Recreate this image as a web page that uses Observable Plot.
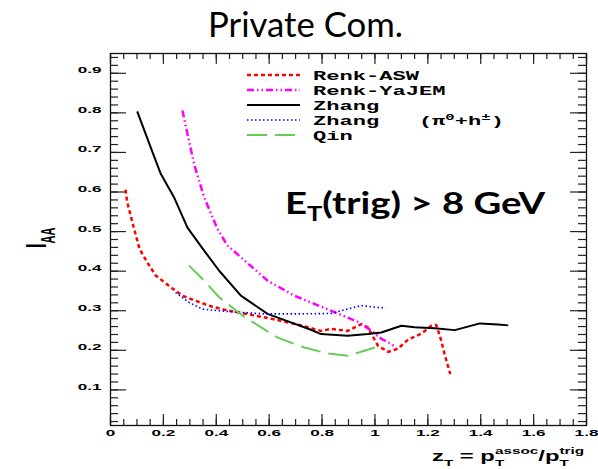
<!DOCTYPE html>
<html><head><meta charset="utf-8">
<script src="https://cdn.jsdelivr.net/npm/d3@7"></script>
<script src="https://cdn.jsdelivr.net/npm/@observablehq/plot@0.6"></script>
<style>body{margin:0;background:#fff}</style>
</head><body><div id="chart"></div>
<script>
// ---- data ----
const renkAswZ = [0.057, 0.063, 0.088, 0.110, 0.139, 0.171, 0.221, 0.272, 0.322, 0.385, 0.448, 0.505, 0.607, 0.708, 0.796, 0.834, 0.897, 0.948, 0.973, 1.011, 1.050, 1.087, 1.125, 1.175, 1.213, 1.232, 1.251, 1.263, 1.285];
const renkAswY = [0.606, 0.575, 0.510, 0.456, 0.422, 0.389, 0.363, 0.338, 0.325, 0.310, 0.300, 0.293, 0.280, 0.265, 0.249, 0.254, 0.249, 0.266, 0.258, 0.212, 0.196, 0.204, 0.227, 0.242, 0.262, 0.264, 0.224, 0.191, 0.140];
const renkYajemZ = [0.272, 0.291, 0.316, 0.354, 0.404, 0.442, 0.493, 0.594, 0.695, 0.758, 0.834, 0.935, 0.986, 1.024, 1.062, 1.080];
const renkYajemY = [0.806, 0.747, 0.671, 0.587, 0.507, 0.465, 0.435, 0.376, 0.338, 0.321, 0.300, 0.272, 0.250, 0.229, 0.216, 0.206];
const zhangZ = [0.101, 0.152, 0.190, 0.240, 0.291, 0.354, 0.411, 0.493, 0.594, 0.758, 0.796, 0.897, 0.973, 1.024, 1.100, 1.150, 1.226, 1.302, 1.397, 1.466, 1.504];
const zhangY = [0.804, 0.713, 0.646, 0.587, 0.510, 0.452, 0.401, 0.338, 0.292, 0.252, 0.241, 0.237, 0.241, 0.245, 0.262, 0.258, 0.256, 0.251, 0.268, 0.265, 0.263];
const zhangPiZ = [0.246, 0.297, 0.348, 0.411, 0.486, 0.581, 0.708, 0.834, 0.872, 0.948, 1.011, 1.040];
const zhangPiY = [0.346, 0.321, 0.304, 0.300, 0.296, 0.292, 0.292, 0.293, 0.300, 0.313, 0.308, 0.307];
const qinZ = [0.297, 0.348, 0.411, 0.505, 0.632, 0.733, 0.822, 0.897, 0.960, 1.000];
const qinY = [0.414, 0.380, 0.334, 0.285, 0.232, 0.207, 0.192, 0.186, 0.199, 0.207];

const seriesNames = ["Renk-ASW", "Renk-YaJEM", "Zhang", "Zhang   (π⁰+h±)", "Qin"];
const xTicks = [0, 0.2, 0.4, 0.6, 0.8, 1, 1.2, 1.4, 1.6, 1.8];
const xMinorTicks = d3.range(0, 1.8001, 0.05);
const yTicks = [0.1, 0.2, 0.3, 0.4, 0.5, 0.6, 0.7, 0.8, 0.9];
const yMinorTicks = d3.range(0.02, 0.9501, 0.02);

// ---- layout ----
const W = 598, H = 469, mT = 53, mB = 44, mL = 110, mR = 12;
const innerW = W - mL - mR, innerH = H - mT - mB;
const rows = (zs, ys) => zs.map((z, i) => ({z, y: ys[i]}));

const series = [
  {rows: rows(renkAswZ, renkAswY), stroke: "#ff0000", width: 2.5, dash: "4,3"},
  {rows: rows(renkYajemZ, renkYajemY), stroke: "#ff00ff", width: 2.5, dash: "7,3,1.5,3,1.5,3"},
  {rows: rows(zhangZ, zhangY), stroke: "#000000", width: 2, dash: null},
  {rows: rows(zhangPiZ, zhangPiY), stroke: "#0000ff", width: 1.6, dash: "1.5,2.5"},
  {rows: rows(qinZ, qinY), stroke: "#66cc55", width: 2, dash: "20,8"}
];

const tickStyle = {stroke: "#222", strokeWidth: 1.2};
const labelFont = {fontSize: 9.5, fontWeight: "bold", fontFamily: "Liberation Sans, Arial, sans-serif", fill: "black"};

const svg = Plot.plot({
  width: W, height: H,
  marginTop: mT, marginBottom: mB, marginLeft: mL, marginRight: mR,
  style: {background: "white", overflow: "visible"},
  x: {domain: [0, 1.8]},
  y: {domain: [0.01, 0.95]},
  marks: [
    Plot.tickX(xMinorTicks, {x: d => d, insetTop: innerH - 6, ...tickStyle}),
    Plot.tickX(xTicks, {x: d => d, insetTop: innerH - 11, ...tickStyle}),
    Plot.tickX(xMinorTicks, {x: d => d, insetBottom: innerH - 6, ...tickStyle}),
    Plot.tickX(xTicks, {x: d => d, insetBottom: innerH - 11, ...tickStyle}),
    Plot.tickY(yMinorTicks, {y: d => d, insetRight: innerW - 8, ...tickStyle}),
    Plot.tickY(yTicks, {y: d => d, insetRight: innerW - 16, ...tickStyle}),
    Plot.tickY(yMinorTicks, {y: d => d, insetLeft: innerW - 8, ...tickStyle}),
    Plot.tickY(yTicks, {y: d => d, insetLeft: innerW - 16, ...tickStyle}),
    Plot.frame({stroke: "#111", strokeWidth: 1.3}),
    ...series.map(s => Plot.line(s.rows, {x: "z", y: "y", stroke: s.stroke, strokeWidth: s.width, strokeDasharray: s.dash, strokeLinecap: "butt"})),
    Plot.axisX({ticks: xTicks, tickSize: 0, tickPadding: 10, tickFormat: d => String(d), label: null, ...labelFont}),
    Plot.axisY({ticks: yTicks, tickSize: 0, tickPadding: 9, tickFormat: d => String(d), label: null, ...labelFont})
  ]
});
document.getElementById("chart").append(svg);

const root = d3.select(svg);
function stretch(sel, sx) {
  sel.each(function () {
    let tr = this.getAttribute("transform") || "";
    const x = this.getAttribute("x"), y = this.getAttribute("y");
    if (x != null || y != null) {
      tr += ` translate(${+x || 0},${+y || 0})`;
      this.removeAttribute("x"); this.removeAttribute("y");
    }
    this.setAttribute("transform", tr + ` scale(${sx},1)`);
  });
}
stretch(root.selectAll('g[aria-label="x-axis tick label"] text'), 1.8);
stretch(root.selectAll('g[aria-label="y-axis tick label"] text'), 1.8);

const ann = root.append("g").attr("text-anchor", "start").attr("fill", "black");

// title
ann.append("text").attr("x", 305.5).attr("y", 37).attr("text-anchor", "middle")
  .attr("font-family", "Lato, 'Open Sans', sans-serif").attr("font-size", 35)
  .attr("textLength", 195).attr("lengthAdjust", "spacingAndGlyphs").text("Private Com.");

// E_T(trig) > 8 GeV
const et = ann.append("text").attr("x", 285).attr("y", 214)
  .attr("font-family", "Lato, sans-serif").attr("font-weight", "bold").attr("font-size", 30)
  .attr("textLength", 260).attr("lengthAdjust", "spacingAndGlyphs");
et.append("tspan").text("E");
et.append("tspan").attr("font-size", 20).attr("dy", 7).text("T");
et.append("tspan").attr("dy", -7).text("(trig) > 8 GeV");

// y-axis title I_AA
const yt = ann.append("text").attr("transform", "translate(46,248) scale(1.8,1) rotate(-90)")
  .attr("font-family", "Liberation Sans, Arial, sans-serif").attr("font-weight", "bold").attr("font-size", 16);
yt.append("tspan").text("I");
yt.append("tspan").attr("font-size", 11).attr("dy", 5).text("AA");

// x-axis title z_T = p_T^assoc / p_T^trig
const xt = ann.append("text").attr("transform", "translate(432,461) scale(1.7,1)")
  .attr("font-family", "Liberation Sans, Arial, sans-serif").attr("font-weight", "bold").attr("font-size", 14);
xt.append("tspan").text("z");
xt.append("tspan").attr("font-size", 9).attr("dy", 5).text("T");
xt.append("tspan").attr("dy", -5).text(" = p");
xt.append("tspan").attr("font-size", 9).attr("dy", 5).text("T");
xt.append("tspan").attr("font-size", 9).attr("dx", -5.5).attr("dy", -12).text("assoc");
xt.append("tspan").attr("dy", 7).text("/p");
xt.append("tspan").attr("font-size", 9).attr("dy", 5).text("T");
xt.append("tspan").attr("font-size", 9).attr("dx", -5.5).attr("dy", -12).text("trig");

// legend
const legendY = [75, 90, 105, 120, 135];
const leg = ann.append("g");
series.forEach((s, i) => {
  const y = legendY[i];
  leg.append("line").attr("x1", 247).attr("x2", 300).attr("y1", y).attr("y2", y)
    .attr("stroke", s.stroke).attr("stroke-width", s.width)
    .attr("stroke-dasharray", s.dash);
  const t = leg.append("text").attr("transform", `translate(313,${y + 4.5}) scale(1.84,1)`)
    .attr("font-family", "Liberation Mono, 'DejaVu Sans Mono', monospace").attr("font-weight", "bold").attr("font-size", 12);
  if (i === 3) {
    t.append("tspan").text("Zhang   (π");
    t.append("tspan").attr("font-size", 8.5).attr("dy", -4.5).text("0");
    t.append("tspan").attr("dy", 4.5).text("+h");
    t.append("tspan").attr("font-size", 8.5).attr("dy", -4.5).text("±");
    t.append("tspan").attr("dy", 4.5).text(")");
  } else {
    t.text(seriesNames[i])
      .attr("textLength", seriesNames[i].length * 7.2)
      .attr("lengthAdjust", "spacingAndGlyphs");
  }
});
</script>
</body></html>
